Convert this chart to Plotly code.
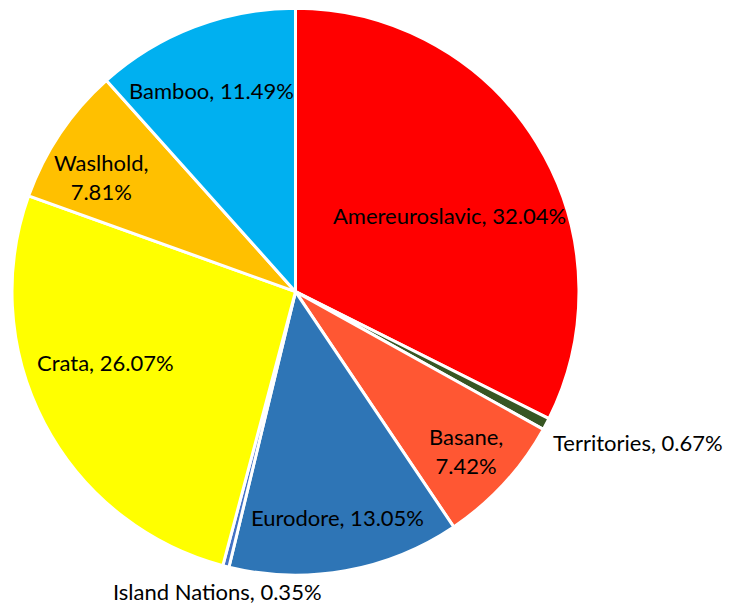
import math
import plotly.graph_objects as go

labels = ["Amereuroslavic", "Territories", "Basane", "Eurodore", "Island Nations", "Crata", "Waslhold", "Bamboo"]
values = [32.04, 0.67, 7.42, 13.05, 0.35, 26.07, 7.81, 11.49]
colors = ["#FF0000", "#375623", "#FF5733", "#2E75B6", "#4472C4", "#FFFF00", "#FFC000", "#00B0F0"]
breaks = [False, False, True, False, False, False, True, False]

# label placement style (radius fraction, angle nudge in degrees, anchor, pixel shift)
label_r = [0.60, 1.0, 0.83, 0.82, 1.0, 0.72, 0.79, 0.76]
label_dang = [6.4, 0.0, 0.9, -0.3, 0.0, 6.5, -4.0, -2.1]
label_xanchor = ["center", "left", "center", "center", "center", "center", "center", "center"]
label_shift = [(0, 3), (5, -18), (0, 3), (0, 3), (-8, -25), (0, 3), (0, 3), (0, 3)]

W, H = 731, 610
dom_x = [0.00547, 0.7811]
dom_y = [0.07, 1.0]

texts = [f"{l},<br>{v:.2f}%" if b else f"{l}, {v:.2f}%" for l, v, b in zip(labels, values, breaks)]

fig = go.Figure(go.Pie(
    labels=labels,
    values=values,
    textinfo="none",
    sort=False,
    direction="clockwise",
    rotation=0,
    marker=dict(colors=colors, line=dict(color="white", width=3)),
    hoverinfo="label+value",
    domain=dict(x=dom_x, y=dom_y),
    showlegend=False,
))

# annotation positions derived from the slice mid-angles
cx = (dom_x[0] + dom_x[1]) / 2
cy = (dom_y[0] + dom_y[1]) / 2
R = min(W * (dom_x[1] - dom_x[0]), H * (dom_y[1] - dom_y[0])) / 2
total = sum(values)
cum = 0.0
annotations = []
for i, v in enumerate(values):
    mid = (cum + v / 2) / total * 360.0
    cum += v
    a = math.radians(mid + label_dang[i])
    r = R * label_r[i]
    x = cx + r * math.sin(a) / W
    y = cy + r * math.cos(a) / H
    annotations.append(dict(
        x=x, y=y, xref="paper", yref="paper",
        text=texts[i], showarrow=False,
        xanchor=label_xanchor[i], yanchor="middle",
        xshift=label_shift[i][0], yshift=label_shift[i][1],
        font=dict(family="Lato", size=22, color="black"),
        align="center",
    ))

fig.update_layout(
    width=W, height=H,
    margin=dict(l=0, r=0, t=0, b=0),
    paper_bgcolor="white",
    plot_bgcolor="white",
    annotations=annotations,
)
fig.write_html("out.html")
